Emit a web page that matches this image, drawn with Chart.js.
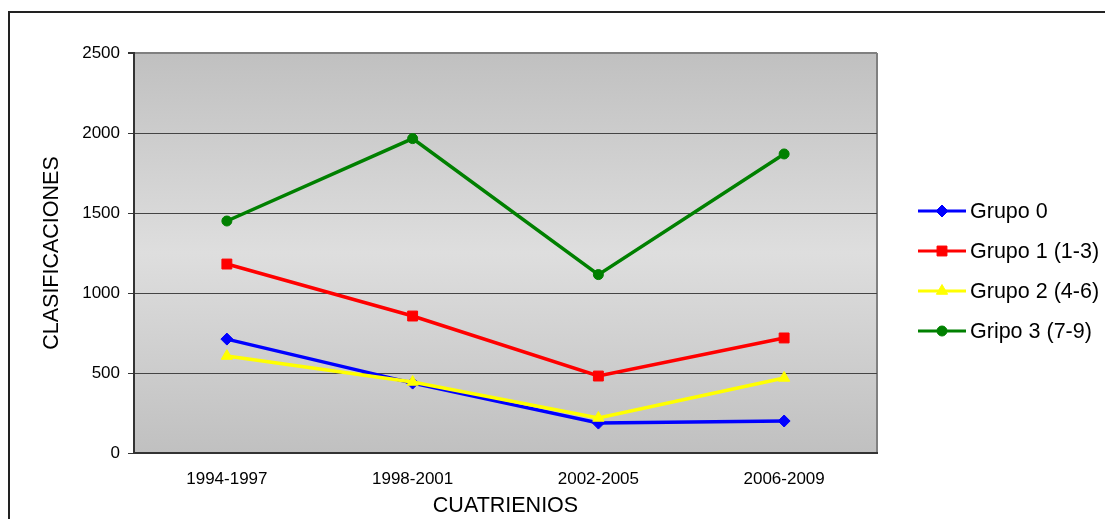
<!DOCTYPE html>
<html>
<head>
<meta charset="utf-8">
<script src="https://cdn.jsdelivr.net/npm/chart.js@4"></script>
<style>
    html, body { margin: 0; padding: 0; background: #fff; overflow: hidden; }
    #frame { position: absolute; left: 8px; top: 11px; width: 1300px; height: 700px; border: 2px solid #222; }
    #wrap { position: absolute; left: 0; top: 0; width: 1105px; height: 519px; }
</style>
</head>
<body>
<div id="frame"></div>
<div id="wrap"><canvas id="chart"></canvas></div>
<script>
// Chart data
const periods = ['1994-1997', '1998-2001', '2002-2005', '2006-2009'];
const grupo0 = [712, 437, 187, 200];
const grupo1 = [1181, 856, 481, 719];
const grupo2 = [606, 444, 219, 469];
const grupo3 = [1450, 1965, 1115, 1869];
const yTicks = [0, 500, 1000, 1500, 2000, 2500];

const FONT = 'Liberation Sans, Arial, sans-serif';

// plot background gradient + right border
const plotBackground = {
    id: 'plotBackground',
    beforeDraw(chart) {
        const { ctx, chartArea: a } = chart;
        const g = ctx.createLinearGradient(0, a.top, 0, a.bottom);
        g.addColorStop(0, '#c0c0c0');
        g.addColorStop(0.5, '#dedede');
        g.addColorStop(1, '#c0c0c0');
        ctx.save();
        ctx.fillStyle = g;
        ctx.fillRect(a.left, a.top, a.right - a.left, a.bottom - a.top);
        ctx.strokeStyle = '#808080';
        ctx.lineWidth = 2;
        ctx.beginPath();
        ctx.moveTo(a.right, a.top);
        ctx.lineTo(a.right, a.bottom);
        ctx.stroke();
        ctx.restore();
    }
};

// legend with line + marker, like the office chart
const lineLegend = {
    id: 'lineLegend',
    afterDraw(chart) {
        const ctx = chart.ctx;
        const x0 = 918, x1 = 966, yStart = 211, step = 40;
        ctx.save();
        chart.data.datasets.forEach((ds, i) => {
            const y = yStart + i * step;
            ctx.strokeStyle = ds.borderColor;
            ctx.lineWidth = 3;
            ctx.beginPath();
            ctx.moveTo(x0, y);
            ctx.lineTo(x1, y);
            ctx.stroke();
            ctx.fillStyle = ds.pointBackgroundColor;
            ctx.strokeStyle = ds.borderColor;
            ctx.lineWidth = 1;
            Chart.helpers.drawPoint(ctx, {
                pointStyle: ds.pointStyle,
                radius: ds.pointRadius,
                borderWidth: 1,
                rotation: 0
            }, (x0 + x1) / 2, y);
            ctx.fillStyle = '#000';
            ctx.font = '21.5px ' + FONT;
            ctx.textBaseline = 'middle';
            ctx.textAlign = 'left';
            ctx.fillText(ds.label, 970, y + 1);
        });
        ctx.restore();
    }
};

// later series sit on top, as in the original
function series(label, data, color, style, r, order) {
    return {
        label: label,
        data: data,
        order: order,
        borderColor: color,
        backgroundColor: color,
        pointBackgroundColor: color,
        pointBorderColor: color,
        borderWidth: 3.5,
        pointBorderWidth: 1,
        pointStyle: style,
        pointRadius: r,
        pointHoverRadius: r,
        tension: 0
    };
}

new Chart(document.getElementById('chart'), {
    type: 'line',
    data: {
        labels: periods,
        datasets: [
            series('Grupo 0', grupo0, '#0000ff', 'rectRot', 6, 3),
            series('Grupo 1 (1-3)', grupo1, '#ff0000', 'rect', 7, 2),
            series('Grupo 2 (4-6)', grupo2, '#ffff00', 'triangle', 6.5, 1),
            series('Gripo 3 (7-9)', grupo3, '#008000', 'circle', 5, 0)
        ]
    },
    options: {
        responsive: true,
        maintainAspectRatio: false,
        animation: false,
        layout: { padding: { top: 53, right: 228, left: 0, bottom: 0 } },
        plugins: {
            legend: { display: false },
            tooltip: { enabled: false }
        },
        scales: {
            x: {
                offset: true,
                grid: { display: false, drawTicks: false },
                border: { display: true, color: '#333', width: 2 },
                ticks: { color: '#000', font: { family: FONT, size: 17 }, padding: 16, maxRotation: 0 },
                title: { display: true, text: 'CUATRIENIOS', color: '#000', font: { family: FONT, size: 21.5 }, padding: { top: 0, bottom: 0 } },
                afterFit(scale) { scale.height = 66; }
            },
            y: {
                min: 0,
                max: 2500,
                afterBuildTicks(scale) { scale.ticks = yTicks.map(v => ({ value: v })); },
                grid: {
                    color: ctx => (ctx.tick && ctx.tick.value === 2500) ? '#808080' : '#444',
                    lineWidth: ctx => (ctx.tick && ctx.tick.value === 2500) ? 2 : 1,
                    tickColor: '#333',
                    tickLength: 6
                },
                border: { display: true, color: '#333', width: 2 },
                ticks: { color: '#000', font: { family: FONT, size: 17 }, padding: 8, callback: v => String(v) },
                title: { display: true, text: 'CLASIFICACIONES', color: '#000', font: { family: FONT, size: 21.5 }, padding: { top: 39, bottom: 0 } },
                afterFit(scale) { scale.width = 134; }
            }
        }
    },
    plugins: [plotBackground, lineLegend]
});
</script>
</body>
</html>
